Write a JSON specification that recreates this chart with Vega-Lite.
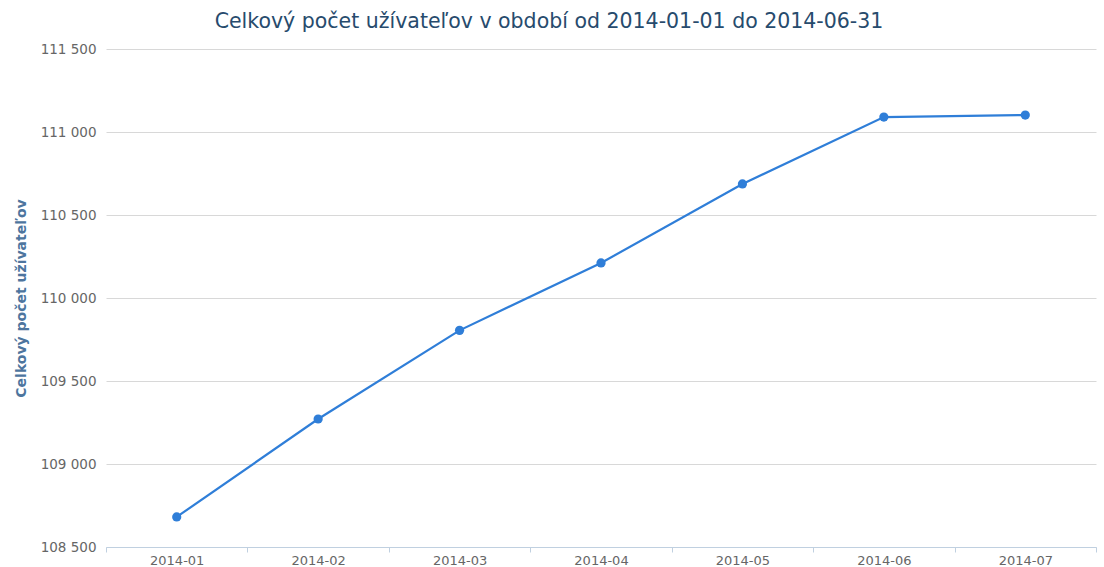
{
  "$schema": "https://vega.github.io/schema/vega-lite/v6.json",
  "width": 990,
  "height": 498,
  "autosize": {"type": "none"},
  "padding": {"left": 106, "top": 49, "right": 8, "bottom": 20},
  "background": "white",
  "title": {
    "text": "Celkový počet užívateľov v období od 2014-01-01 do 2014-06-31",
    "font": "DejaVu Sans",
    "fontSize": 20.5,
    "fontWeight": "normal",
    "color": "#274b6d",
    "anchor": "middle",
    "dx": -52,
    "offset": 10
  },
  "data": {
    "values": [
      {"mesiac": "2014-01", "pocet": 108681},
      {"mesiac": "2014-02", "pocet": 109271},
      {"mesiac": "2014-03", "pocet": 109805},
      {"mesiac": "2014-04", "pocet": 110211},
      {"mesiac": "2014-05", "pocet": 110687},
      {"mesiac": "2014-06", "pocet": 111090},
      {"mesiac": "2014-07", "pocet": 111102}
    ]
  },
  "encoding": {
    "x": {
      "field": "mesiac",
      "type": "ordinal",
      "scale": {"paddingInner": 0, "paddingOuter": 0},
      "axis": {
        "title": null,
        "labelAngle": 0,
        "labelFont": "DejaVu Sans",
        "labelFontSize": 13,
        "labelColor": "#666666",
        "labelPadding": 2,
        "domainColor": "#c0d0e0",
        "tickColor": "#c0d0e0",
        "tickSize": 5,
        "tickBand": "extent",
        "grid": false
      }
    },
    "y": {
      "field": "pocet",
      "type": "quantitative",
      "scale": {"domain": [108500, 111500], "nice": false, "zero": false},
      "axis": {
        "title": "Celkový počet užívateľov",
        "titleFont": "DejaVu Sans",
        "titleFontSize": 14,
        "titleFontWeight": "bold",
        "titleColor": "#4d759e",
        "titlePadding": 12,
        "values": [108500, 109000, 109500, 110000, 110500, 111000, 111500],
        "labelExpr": "replace(format(datum.value, ','), ',', ' ')",
        "labelFont": "DejaVu Sans",
        "labelFontSize": 13.5,
        "labelColor": "#666666",
        "labelPadding": 10,
        "domain": false,
        "ticks": false,
        "grid": true,
        "gridColor": "#d8d8d8",
        "gridWidth": 1
      }
    }
  },
  "layer": [
    {"mark": {"type": "line", "color": "#2f7ed8", "strokeWidth": 2.2}},
    {"mark": {"type": "point", "filled": true, "color": "#2f7ed8", "size": 85, "opacity": 1}}
  ],
  "config": {"view": {"stroke": null}}
}
